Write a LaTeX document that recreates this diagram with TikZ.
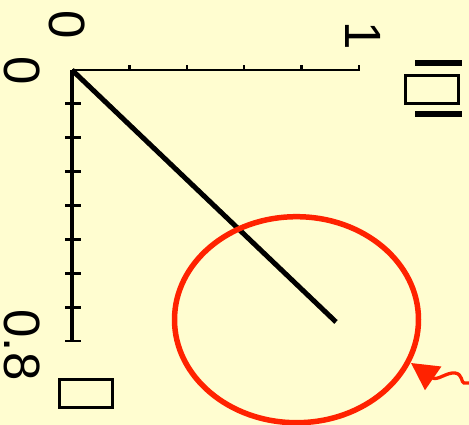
\documentclass[tikz,border=0pt]{standalone}
\usepackage{fontspec}
\setmainfont{Liberation Sans}
\usetikzlibrary{arrows.meta}
\definecolor{paper}{RGB}{255,253,208}
\definecolor{ringred}{RGB}{255,34,0}

\begin{document}
\begin{tikzpicture}[x=1pt,y=-1pt,
  lbl/.style={rotate=-90,inner sep=0pt,font=\fontsize{51}{51}\selectfont},
  tofu/.style={draw,line width=3.2pt,minimum width=53pt,minimum height=28pt,inner sep=0pt}]
\fill[paper] (0,0) rectangle (469,425);
\useasboundingbox (0,0) rectangle (469,425);
% axes
\coordinate (O) at (72,70);
\coordinate (X) at (360,70);
\coordinate (Y) at (72,341);
\draw[line width=2.7pt] (O) -- (X);
\draw[line width=4pt] (O) -- (Y);
\foreach \i in {1,...,5}
  \draw[line width=2.4pt] (72+57.4*\i,65.5) -- ++(0,6);
\foreach \i in {1,...,8}
  \draw[line width=2.8pt] (65,70+33.875*\i) -- ++(16,0);
% axis labels
\node[lbl] (zerox) at (67.5,25) {0};
\node[lbl] (onex) at (363.5,36) {1};
\node[lbl] (zeroy) at (22,70.5) {0};
\node[lbl] (eighty) at (22,345) {0.8};
\node[tofu] (ylabel) at (86,393.3) {};
\node[tofu] (xlabel) at (432,89.5) {};
\draw[line width=5.7pt] (415,62.8) -- (462,62.8);
\draw[line width=5.7pt] (415,113.8) -- (462,113.8);
% ray and ring
\coordinate (E) at (336,322);
\draw[line width=5pt] (O) -- (E);
\draw[ringred,line width=5.5pt] (296.5,319.7) ellipse [x radius=122, y radius=103];
\coordinate (tip) at (411,363);
\coordinate (tail) at (470,383);
\draw[ringred,line width=3.3pt,-{Triangle[length=27pt,width=28pt]}]
  (tail) -- (464,383) .. controls (461,383) and (463,374) .. (455,373)
  .. controls (447,372) and (437,381) .. (tip);
\end{tikzpicture}
\end{document}
